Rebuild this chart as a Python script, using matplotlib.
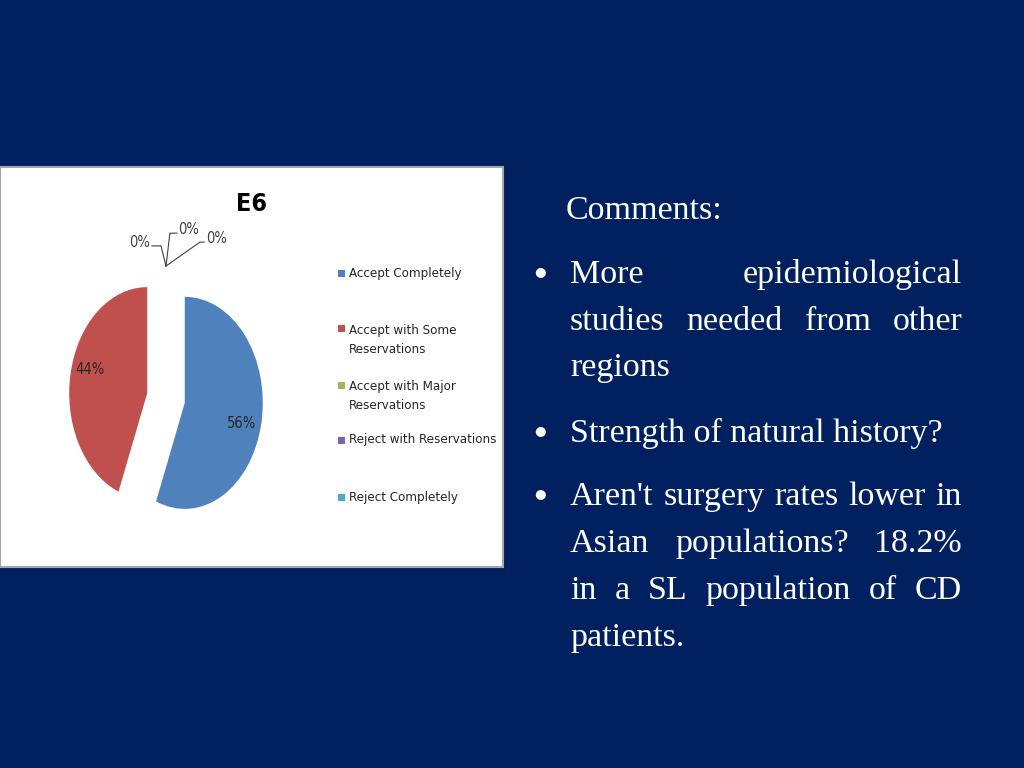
import matplotlib
matplotlib.use('Agg')
import matplotlib.pyplot as plt
from matplotlib.patches import Rectangle
from matplotlib import font_manager

# data
categories = ['Accept Completely', 'Accept with Some\nReservations', 'Accept with Major\nReservations',
              'Reject with Reservations', 'Reject Completely']
values = [56, 44, 0, 0, 0]
colors = ['#4F81BD', '#C0504D', '#9BBB59', '#8064A2', '#4BACC6']
title = 'E6'

comment_title = 'Comments:'
bullets = [
    ['More epidemiological', 'studies needed from other', 'regions'],
    ['Strength of natural history?'],
    ["Aren't surgery rates lower in", 'Asian populations? 18.2%', 'in a SL population of CD', 'patients.'],
]

W, H = 1024, 768
navy = '#002060'
serif = ['Liberation Serif', 'DejaVu Serif']

# narrow sans for the Excel chart text, if there is one
names = set(f.name for f in font_manager.fontManager.ttflist)
if 'Liberation Sans Narrow' in names:
    sans = dict(family='Liberation Sans Narrow')
else:
    sans = dict(family='DejaVu Sans', stretch='condensed')

fig = plt.figure(figsize=(W / 100, H / 100), dpi=100)
fig.patch.set_facecolor(navy)
renderer = fig.canvas.get_renderer()


def fx(px):
    return px / W


def fy(py):
    return 1 - py / H


# white chart box
box = Rectangle((fx(0), fy(567)), fx(503), (567 - 167) / H, transform=fig.transFigure,
                facecolor='white', edgecolor='#a6a6a6', lw=1.5, zorder=-5)
fig.patches.append(box)

# pie axes, stretched (Excel chart was squeezed horizontally)
rx, ry = 78, 106
cx, cy = 166, 398
lim = 1.6
ax = fig.add_axes([fx(cx - lim * rx), fy(cy + lim * ry), 2 * lim * rx / W, 2 * lim * ry / H])
ax.set_zorder(2)
ax.patch.set_alpha(0)
explode = [0.245] * len(values)
wedges, texts, autotexts = ax.pie(values, colors=colors, startangle=90, counterclock=False,
                                  explode=explode, autopct=lambda p: '%d%%' % round(p) if p > 0 else '',
                                  pctdistance=0.74, wedgeprops=dict(linewidth=0),
                                  textprops=dict(fontsize=10.5, color='#262626', **sans))
ax.set_aspect('auto')
ax.set_xlim(-lim, lim)
ax.set_ylim(-lim, lim)
ax.axis('off')
px, py = autotexts[0].get_position()
autotexts[0].set_position((px, py - 0.06))
px, py = autotexts[1].get_position()
autotexts[1].set_position((px - 0.01, py + 0.08))

# 0% labels with leader lines from the (exploded) top of the pie
tip = (0, 1 + explode[2])
leaders = [
    [(-0.064, 0.19), (-0.18, 0.19)],
    [(0.05, 0.31), (0.14, 0.31)],
    [(0.436, 0.226), (0.49, 0.226)],
]
ha_list = ['right', 'left', 'left']
for i, pts in enumerate(leaders):
    xs = [tip[0]] + [tip[0] + p[0] for p in pts]
    ys = [tip[1]] + [tip[1] + p[1] for p in pts]
    ax.plot(xs, ys, color='#404040', lw=0.8, clip_on=False)
    off = -0.02 if ha_list[i] == 'right' else 0.02
    ax.text(xs[-1] + off, ys[-1] + 0.03, '%d%%' % values[2 + i], ha=ha_list[i], va='center',
            fontsize=10.5, color='#404040', **sans)

fig.text(fx(252), fy(204), title, ha='center', va='center', fontsize=18, fontweight='bold',
         color='black', **sans)

# legend (Excel-style uneven spacing)
leg_y = [273, 340, 396, 440, 497]
for lab, col, y in zip(categories, colors, leg_y):
    nlines = lab.count('\n') + 1
    top = y - (nlines - 1) * 11
    fig.patches.append(Rectangle((fx(338), fy(top + 3.5)), 7 / W, 7 / H, transform=fig.transFigure,
                                 facecolor=col, edgecolor='none'))
    fig.text(fx(349), fy(y), lab, ha='left', va='center', fontsize=9.5, color='#262626',
             linespacing=1.55, **sans)

# comments text, justified
fs = 24.5
x0, x1 = 570, 962


def text_width(s):
    t = fig.text(0, 0, s, fontsize=fs, family=serif)
    w = t.get_window_extent(renderer).width
    t.remove()
    return w


def put_line(s, base, justify):
    words = s.split(' ')
    if not justify or len(words) == 1:
        fig.text(fx(x0), fy(base), s, fontsize=fs, family=serif, color='white', va='baseline')
        return
    widths = [text_width(w) for w in words]
    gap = (x1 - x0 - sum(widths)) / (len(words) - 1)
    x = x0
    for w, wd in zip(words, widths):
        fig.text(fx(x), fy(base), w, fontsize=fs, family=serif, color='white', va='baseline')
        x += wd + gap


fig.text(fx(566), fy(219), comment_title, fontsize=fs, family=serif, color='white', va='baseline')
baselines = [[283, 330, 376], [442], [505, 552, 599, 646]]
for lines, bases in zip(bullets, baselines):
    fig.text(fx(540), fy(bases[0] - 11), '\u25cf', fontsize=9.5, family='DejaVu Sans', color='white',
             ha='center', va='center')
    for j, (s, b) in enumerate(zip(lines, bases)):
        put_line(s, b, justify=(j < len(lines) - 1))

fig.savefig('out.png', dpi=100, facecolor=navy)
